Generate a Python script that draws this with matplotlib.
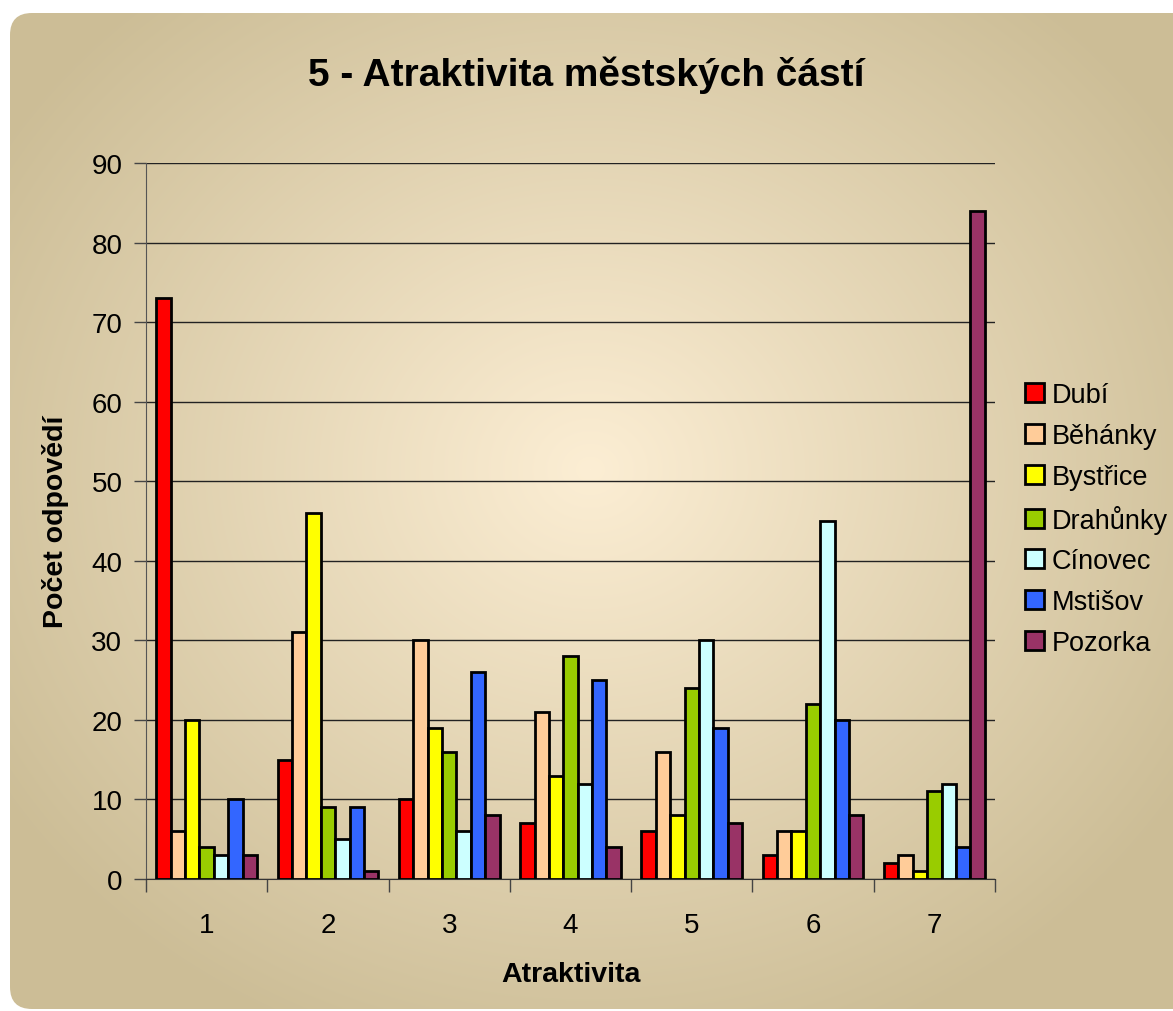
import numpy as np
import matplotlib.pyplot as plt
from matplotlib.patches import FancyBboxPatch

plt.rcParams['font.family'] = ['Liberation Sans', 'DejaVu Sans']

# data
categories = ['1', '2', '3', '4', '5', '6', '7']
series = ['Dubí', 'Běhánky', 'Bystřice', 'Drahůnky', 'Cínovec', 'Mstišov', 'Pozorka']
dubi = [73, 15, 10, 7, 6, 3, 2]
behanky = [6, 31, 30, 21, 16, 6, 3]
bystrice = [20, 46, 19, 13, 8, 6, 1]
drahunky = [4, 9, 16, 28, 24, 22, 11]
cinovec = [3, 5, 6, 12, 30, 45, 12]
mstisov = [10, 9, 26, 25, 19, 20, 4]
pozorka = [3, 1, 8, 4, 7, 8, 84]
values = [dubi, behanky, bystrice, drahunky, cinovec, mstisov, pozorka]
colors = ['#FF0000', '#FFCC99', '#FFFF00', '#99CC00', '#CCFFFF', '#3366FF', '#993366']

W, H = 1173, 1012
fig = plt.figure(figsize=(W / 100, H / 100), dpi=100)
fig.patch.set_facecolor('white')

# background: radial gradient in a rounded box
bg = fig.add_axes([0, 0, 1, 1])
bg.set_xlim(0, W)
bg.set_ylim(H, 0)
bg.axis('off')
yy, xx = np.mgrid[0:H, 0:W]
d = np.sqrt(((xx - 590) / 700.0) ** 2 + ((yy - 470) / 620.0) ** 2)
d = np.clip(d, 0, 1)
c_in = np.array([0xFC, 0xEE, 0xD4]) / 255
c_out = np.array([0xCC, 0xBD, 0x96]) / 255
img = c_in[None, None, :] * (1 - d[..., None]) + c_out[None, None, :] * d[..., None]
im = bg.imshow(img, extent=(0, W, H, 0), aspect='auto', interpolation='bilinear')
box = FancyBboxPatch((10, 14), W + 40, 1010 - 14, boxstyle='round,pad=0,rounding_size=22',
                     transform=bg.transData, facecolor='none', edgecolor='none')
bg.add_patch(box)
im.set_clip_path(box)

ax = fig.add_axes([146 / W, 1 - 880 / H, (995 - 146) / W, (880 - 164) / H])
ax.set_facecolor('none')

x = np.arange(1, len(categories) + 1)
w = 0.83 / len(series)
for i, (name, vals) in enumerate(zip(series, values)):
    ax.bar(x + (i - 3) * w, vals, width=w, color=colors[i], edgecolor='black',
           linewidth=2.0, label=name, zorder=3)

ax.set_xlim(0.5, 7.5)
ax.set_ylim(0, 90)
ax.set_yticks(range(0, 91, 10))
ax.yaxis.grid(True, color='#222222', linewidth=1.0, zorder=0)
ax.set_xticks(x)
ax.set_xticklabels(categories)
ax.set_xticks(np.arange(0.5, 8, 1), minor=True)
ax.tick_params(axis='x', which='major', length=0, labelsize=20, pad=24)
ax.tick_params(axis='x', which='minor', length=9, width=1, color='#444444')
ax.tick_params(axis='y', length=9, width=1, color='#444444', labelsize=20, pad=8)
for s in ['top', 'right']:
    ax.spines[s].set_visible(False)
ax.spines['left'].set_color('#555555')
ax.spines['bottom'].set_color('#333333')

ax.set_xlabel('Atraktivita', fontsize=20.5, fontweight='bold', labelpad=16)
ax.set_ylabel('Počet odpovědí', fontsize=20.5, fontweight='bold', labelpad=16)

fig.text(0.5, 1 - 75 / H, '5 - Atraktivita městských částí', ha='center', va='center',
         fontsize=28, fontweight='bold')

ax.legend(loc='upper left', bbox_to_anchor=(1014 / W, 1 - 372 / H), bbox_transform=fig.transFigure,
          frameon=False, fontsize=19.5, handlelength=0.7, handleheight=0.7,
          handletextpad=0.3, labelspacing=0.55, borderaxespad=0)

fig.savefig('out.png', dpi=100)
